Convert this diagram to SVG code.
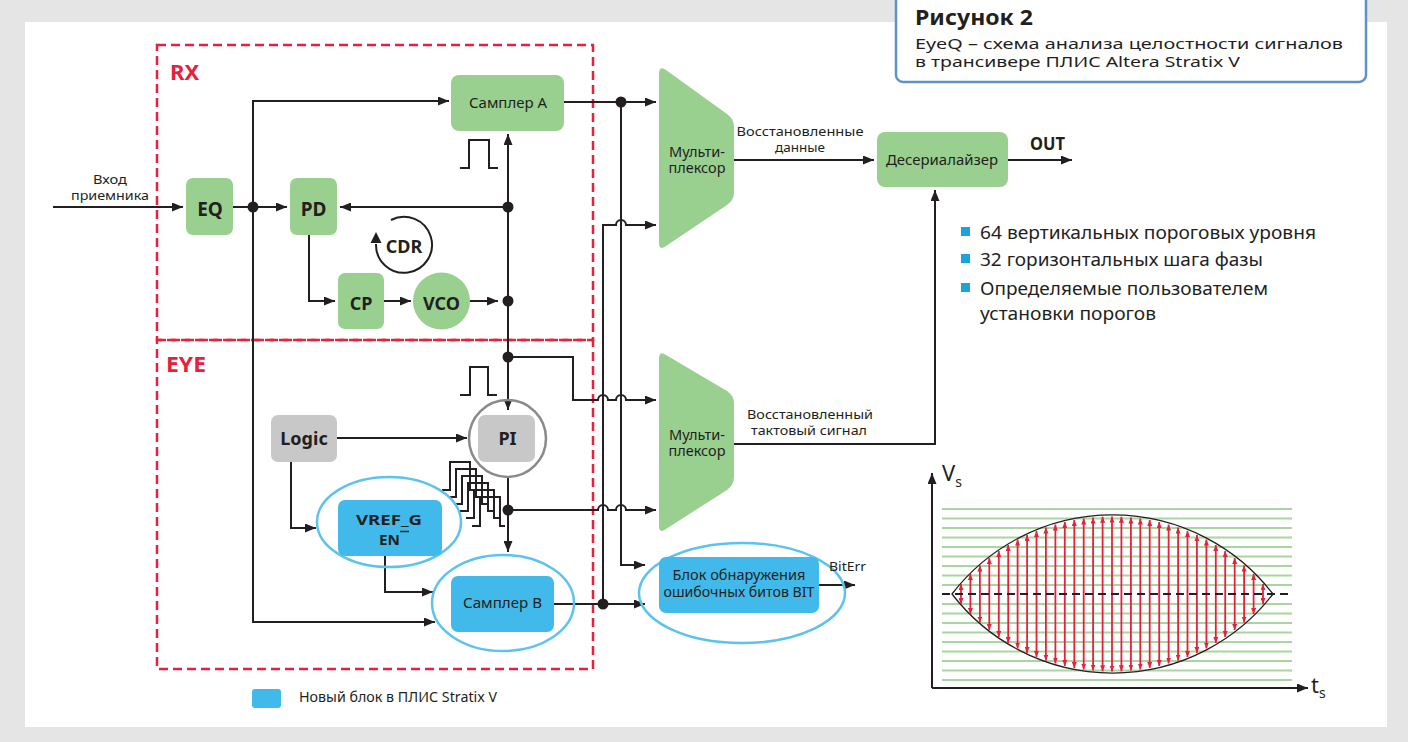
<svg xmlns="http://www.w3.org/2000/svg" width="1408" height="742" viewBox="0 0 1408 742">
<defs>
<style>
.t{font-family:"Noto Sans","Open Sans","Liberation Sans",sans-serif;fill:#231f20}
.b{font-weight:bold}
.c{text-anchor:middle}
.ln{fill:none;stroke:#231f20;stroke-width:2}
.ar{fill:none;stroke:#231f20;stroke-width:2;marker-end:url(#ah)}
.grn{fill:#9ad08f}
.blu{fill:#41b9ea}
.gry{fill:#c8c8c8}
.ell{fill:none;stroke:#5cc3ee;stroke-width:2.5}
.red{fill:none;stroke:#e8203a;stroke-width:2.5;stroke-dasharray:9 5}
.dot{fill:#231f20}
.gl{stroke:#a9d6a0;stroke-width:2}
.ra{stroke:#e8203a;stroke-width:1.8;marker-start:url(#rh);marker-end:url(#rh)}
</style>
<marker id="ah" markerUnits="userSpaceOnUse" markerWidth="11" markerHeight="9" refX="11" refY="4.5" orient="auto"><path d="M0,0 L11,4.5 L0,9 z" fill="#231f20"/></marker>
<marker id="rh" markerUnits="userSpaceOnUse" markerWidth="6" markerHeight="5" refX="6" refY="2.5" orient="auto-start-reverse"><path d="M0,0 L6,2.5 L0,5 z" fill="#e8203a"/></marker>
</defs>
<rect x="0" y="0" width="1408" height="742" fill="#e5e5e5"/>
<rect x="25" y="22" width="1362" height="705" fill="#ffffff"/>

<g id="title">
<rect x="896" y="-8" width="470" height="90" rx="7" fill="#fff" stroke="#5f93c6" stroke-width="2.5"/>
<text class="t b" x="915" y="25" font-size="21" textLength="118" lengthAdjust="spacingAndGlyphs">Рисунок 2</text>
<text class="t" x="915" y="49" font-size="14.5" textLength="428" lengthAdjust="spacingAndGlyphs">EyeQ – схема анализа целостности сигналов</text>
<text class="t" x="915" y="67" font-size="14.5" textLength="325" lengthAdjust="spacingAndGlyphs">в трансивере ПЛИС Altera Stratix V</text>
</g>

<g id="regions">
<rect class="red" x="157" y="45" width="436" height="295"/>
<rect class="red" x="157" y="340" width="436" height="329"/>
<text class="t b" x="170" y="80" font-size="22" style="fill:#e8203a">RX</text>
<text class="t b" x="166" y="372" font-size="22" style="fill:#e8203a" textLength="40" lengthAdjust="spacingAndGlyphs">EYE</text>
</g>

<g id="connectors">
<path class="ar" d="M53,207 H183"/>
<path class="ar" d="M233,207 H287"/>
<path class="ar" d="M253,207 V101 H449"/>
<path class="ar" d="M253,207 V622 H435"/>
<path class="ar" d="M508,207 H340"/>
<path class="ar" d="M309,235 V301 H335"/>
<path class="ar" d="M384,301 H411"/>
<path class="ar" d="M470,301 H498"/>
<path class="ar" d="M508,357 V134"/>
<path class="ar" d="M508,357 V410"/>
<path class="ar" d="M508,477 V552"/>
<path class="ar" d="M337,438 H467"/>
<path class="ar" d="M291,461 V528 H316"/>
<path class="ar" d="M385,556 V592 H433"/>
<path class="ar" d="M564,102 H656"/>
<path class="ar" d="M621,102 V565 H645"/>
<path class="ar" d="M554,604 H645"/>
<path class="ar" d="M603,604 V225 H616 A5,5 0 0 1 626,225 H656"/>
<path class="ar" d="M508,357 H573 V400 H598 A5,5 0 0 1 608,400 H616 A5,5 0 0 1 626,400 H656"/>
<path class="ar" d="M508,510 H598 A5,5 0 0 1 608,510 H616 A5,5 0 0 1 626,510 H656"/>
<path class="ar" d="M734,160 H874"/>
<path class="ar" d="M1008,160 H1072"/>
<path class="ar" d="M734,444 H935 V190"/>
<path class="ar" d="M819,585 H855"/>
<circle class="dot" cx="253" cy="207" r="5.5"/>
<circle class="dot" cx="508" cy="207" r="5.5"/>
<circle class="dot" cx="508" cy="301" r="5.5"/>
<circle class="dot" cx="508" cy="357" r="5.5"/>
<circle class="dot" cx="508" cy="510" r="5.5"/>
<circle class="dot" cx="621" cy="102" r="5.5"/>
<circle class="dot" cx="603" cy="604" r="5.5"/>
<path class="ln" d="M460,168 H469 V140 H489 V168 H498"/>
<path class="ln" d="M460,395 H470 V367 H488 V395 H497"/>
<path class="ln" stroke-width="1.6" d="M442,490 H450 V462 H470 V490 H476 M448,497 H456 V469 H476 V497 H482 M454,504 H462 V476 H482 V504 H488 M460,511 H468 V483 H488 V511 H494 M466,518 H474 V490 H494 V518 H500 M472,526 H480 V497 H500 V526 H505"/>
</g>

<g id="cdr">
<path class="ln" d="M376,244 A28,28 0 1 0 391,220"/>
<path d="M376,232 L370.5,243 L381.5,243 z" fill="#231f20"/>
<text class="t b c" x="404" y="253" font-size="18">CDR</text>
</g>

<g id="eq"><rect class="grn" x="186" y="178" width="47" height="57" rx="7"/><text class="t b c" x="210" y="216" font-size="19">EQ</text></g>
<g id="pd"><rect class="grn" x="290" y="178" width="47" height="57" rx="7"/><text class="t b c" x="313.5" y="216" font-size="19">PD</text></g>
<g id="input-label">
<text class="t c" x="110" y="184" font-size="12.5" textLength="34" lengthAdjust="spacingAndGlyphs">Вход</text>
<text class="t c" x="110" y="200" font-size="12.5" textLength="78" lengthAdjust="spacingAndGlyphs">приемника</text>
</g>
<g id="sampler-a"><rect class="grn" x="451" y="75" width="113" height="56" rx="8"/><text class="t c" x="508" y="108" font-size="14" textLength="78" lengthAdjust="spacingAndGlyphs">Самплер A</text></g>
<g id="cp"><rect class="grn" x="338" y="273" width="46" height="56" rx="7"/><text class="t b c" x="361" y="310" font-size="18">CP</text></g>
<g id="vco"><circle class="grn" cx="441.5" cy="301" r="28.5"/><text class="t b c" x="441.5" y="310" font-size="18">VCO</text></g>

<g id="logic"><rect class="gry" x="271" y="415" width="66" height="47" rx="7"/><text class="t b c" x="304" y="445" font-size="18">Logic</text></g>
<g id="pi"><circle cx="507.5" cy="438.5" r="38.5" fill="none" stroke="#8a8a8a" stroke-width="2.5"/><rect class="gry" x="478" y="415" width="57" height="47" rx="7"/><text class="t b c" x="507.5" y="445" font-size="18">PI</text></g>
<g id="vref">
<ellipse class="ell" cx="389" cy="522" rx="72" ry="45"/>
<rect class="blu" x="338" y="500" width="104" height="56" rx="7"/>
<text class="t b c" x="389" y="525" font-size="15" textLength="66" lengthAdjust="spacingAndGlyphs">VREF_G</text>
<text class="t b c" x="389.5" y="545" font-size="15" textLength="21" lengthAdjust="spacingAndGlyphs">EN</text>
<line x1="400" y1="531.5" x2="409" y2="531.5" stroke="#231f20" stroke-width="1.5"/>
</g>
<g id="sampler-b">
<ellipse class="ell" cx="503" cy="603" rx="71" ry="48"/>
<rect class="blu" x="451" y="576" width="103" height="56" rx="7"/>
<text class="t c" x="502.5" y="608" font-size="14" textLength="79" lengthAdjust="spacingAndGlyphs">Самплер B</text>
</g>
<g id="bit">
<ellipse class="ell" cx="742" cy="593" rx="103" ry="50"/>
<rect class="blu" x="659" y="557" width="160" height="56" rx="7"/>
<text class="t c" x="739" y="580" font-size="13.5" textLength="133" lengthAdjust="spacingAndGlyphs">Блок обнаружения</text>
<text class="t c" x="739" y="597" font-size="13.5" textLength="151" lengthAdjust="spacingAndGlyphs">ошибочных битов BIT</text>
<text class="t" x="829" y="571" font-size="13" textLength="37" lengthAdjust="spacingAndGlyphs">BitErr</text>
</g>

<g id="mux1">
<path class="grn" d="M659,74 Q659,65 666,70 L727,114 Q734,119 734,127 L734,193 Q734,200 727,205 L666,246 Q659,251 659,243 Z"/>
<text class="t c" x="697" y="157" font-size="13.5" textLength="56" lengthAdjust="spacingAndGlyphs">Мульти-</text>
<text class="t c" x="697" y="173" font-size="13.5" textLength="57" lengthAdjust="spacingAndGlyphs">плексор</text>
</g>
<g id="mux2">
<path class="grn" d="M659,359 Q659,350 666,355 L727,391 Q734,396 734,403 L734,477 Q734,485 727,490 L666,529 Q659,534 659,526 Z"/>
<text class="t c" x="697" y="440" font-size="13.5" textLength="56" lengthAdjust="spacingAndGlyphs">Мульти-</text>
<text class="t c" x="697" y="456" font-size="13.5" textLength="57" lengthAdjust="spacingAndGlyphs">плексор</text>
</g>
<g id="labels">
<text class="t c" x="800" y="136" font-size="13" textLength="127" lengthAdjust="spacingAndGlyphs">Восстановленные</text>
<text class="t c" x="800" y="152" font-size="13" textLength="50" lengthAdjust="spacingAndGlyphs">данные</text>
<text class="t c" x="810" y="419" font-size="12.8" textLength="126" lengthAdjust="spacingAndGlyphs">Восстановленный</text>
<text class="t c" x="809" y="435" font-size="12.8" textLength="116" lengthAdjust="spacingAndGlyphs">тактовый сигнал</text>
<text class="t b" x="1030" y="150" font-size="18" textLength="35" lengthAdjust="spacingAndGlyphs">OUT</text>
</g>
<g id="deser"><rect class="grn" x="877" y="132" width="131" height="55" rx="8"/><text class="t c" x="942" y="165" font-size="14" textLength="112" lengthAdjust="spacingAndGlyphs">Десериалайзер</text></g>

<g id="bullets">
<rect x="961" y="227" width="9" height="9" fill="#1ba3de"/>
<rect x="961" y="254" width="9" height="9" fill="#1ba3de"/>
<rect x="961" y="283" width="9" height="9" fill="#1ba3de"/>
<text class="t" x="980" y="239" font-size="17.5" textLength="336" lengthAdjust="spacingAndGlyphs">64 вертикальных пороговых уровня</text>
<text class="t" x="980" y="266" font-size="17.5" textLength="283" lengthAdjust="spacingAndGlyphs">32 горизонтальных шага фазы</text>
<text class="t" x="980" y="295" font-size="17.5" textLength="288" lengthAdjust="spacingAndGlyphs">Определяемые пользователем</text>
<text class="t" x="980" y="320" font-size="17.5" textLength="176" lengthAdjust="spacingAndGlyphs">установки порогов</text>
</g>

<g id="eye">
<g>
<line class="gl" x1="942" y1="509" x2="1292" y2="509"/><line class="gl" x1="942" y1="518.5" x2="1292" y2="518.5"/>
<line class="gl" x1="942" y1="528" x2="1292" y2="528"/><line class="gl" x1="942" y1="537.5" x2="1292" y2="537.5"/>
<line class="gl" x1="942" y1="547" x2="1292" y2="547"/><line class="gl" x1="942" y1="556.5" x2="1292" y2="556.5"/>
<line class="gl" x1="942" y1="566" x2="1292" y2="566"/><line class="gl" x1="942" y1="575.5" x2="1292" y2="575.5"/>
<line class="gl" x1="942" y1="585" x2="1292" y2="585"/><line class="gl" x1="942" y1="604" x2="1292" y2="604"/>
<line class="gl" x1="942" y1="613.5" x2="1292" y2="613.5"/><line class="gl" x1="942" y1="623" x2="1292" y2="623"/>
<line class="gl" x1="942" y1="632.5" x2="1292" y2="632.5"/><line class="gl" x1="942" y1="642" x2="1292" y2="642"/>
<line class="gl" x1="942" y1="651.5" x2="1292" y2="651.5"/><line class="gl" x1="942" y1="661" x2="1292" y2="661"/>
<line class="gl" x1="942" y1="670.5" x2="1292" y2="670.5"/><line class="gl" x1="942" y1="680" x2="1292" y2="680"/>
</g>
<path d="M952,594 A202.5,202.5 0 0 1 1273,594 A202.5,202.5 0 0 1 952,594 Z" fill="none" stroke="#231f20" stroke-width="1.3"/>
<g>
<line class="ra" x1="961" y1="584" x2="961" y2="604"/>
<line class="ra" x1="970.4" y1="574" x2="970.4" y2="614"/>
<line class="ra" x1="979.9" y1="565.5" x2="979.9" y2="622.5"/>
<line class="ra" x1="989.3" y1="558" x2="989.3" y2="630"/>
<line class="ra" x1="998.8" y1="551" x2="998.8" y2="637"/>
<line class="ra" x1="1008.2" y1="545" x2="1008.2" y2="643"/>
<line class="ra" x1="1017.6" y1="539.5" x2="1017.6" y2="648.5"/>
<line class="ra" x1="1027.1" y1="535" x2="1027.1" y2="653"/>
<line class="ra" x1="1036.5" y1="531" x2="1036.5" y2="657"/>
<line class="ra" x1="1045.9" y1="527.5" x2="1045.9" y2="660.5"/>
<line class="ra" x1="1055.4" y1="524.5" x2="1055.4" y2="663.5"/>
<line class="ra" x1="1064.8" y1="522" x2="1064.8" y2="666"/>
<line class="ra" x1="1074.3" y1="520" x2="1074.3" y2="668"/>
<line class="ra" x1="1083.7" y1="518.5" x2="1083.7" y2="669.5"/>
<line class="ra" x1="1093.1" y1="517.5" x2="1093.1" y2="670.5"/>
<line class="ra" x1="1102.6" y1="516.7" x2="1102.6" y2="671.3"/>
<line class="ra" x1="1112" y1="516.5" x2="1112" y2="671.5"/>
<line class="ra" x1="1121.4" y1="516.7" x2="1121.4" y2="671.3"/>
<line class="ra" x1="1130.9" y1="517.5" x2="1130.9" y2="670.5"/>
<line class="ra" x1="1140.3" y1="518.5" x2="1140.3" y2="669.5"/>
<line class="ra" x1="1149.7" y1="520" x2="1149.7" y2="668"/>
<line class="ra" x1="1159.2" y1="522" x2="1159.2" y2="666"/>
<line class="ra" x1="1168.6" y1="524.5" x2="1168.6" y2="663.5"/>
<line class="ra" x1="1178.1" y1="527.5" x2="1178.1" y2="660.5"/>
<line class="ra" x1="1187.5" y1="531" x2="1187.5" y2="657"/>
<line class="ra" x1="1196.9" y1="535" x2="1196.9" y2="653"/>
<line class="ra" x1="1206.4" y1="539.5" x2="1206.4" y2="648.5"/>
<line class="ra" x1="1215.8" y1="545" x2="1215.8" y2="643"/>
<line class="ra" x1="1225.2" y1="551" x2="1225.2" y2="637"/>
<line class="ra" x1="1234.7" y1="558" x2="1234.7" y2="630"/>
<line class="ra" x1="1244.1" y1="565.5" x2="1244.1" y2="622.5"/>
<line class="ra" x1="1253.6" y1="574" x2="1253.6" y2="614"/>
<line class="ra" x1="1263" y1="584" x2="1263" y2="604"/>
</g>
<line x1="942" y1="594" x2="1292" y2="594" stroke="#231f20" stroke-width="2" stroke-dasharray="8 5"/>
<path class="ar" d="M932,688 V473"/>
<path class="ar" d="M932,688 H1308"/>
<text class="t" x="942" y="481" font-size="22">V<tspan font-size="14" dy="6">s</tspan></text>
<text class="t" x="1311" y="693" font-size="22">t<tspan font-size="14" dy="5">s</tspan></text>
</g>

<g id="legend">
<rect class="blu" x="252" y="689" width="29" height="19" rx="3"/>
<text class="t" x="299" y="702" font-size="13.5" textLength="198" lengthAdjust="spacingAndGlyphs">Новый блок в ПЛИС Stratix V</text>
</g>
</svg>
